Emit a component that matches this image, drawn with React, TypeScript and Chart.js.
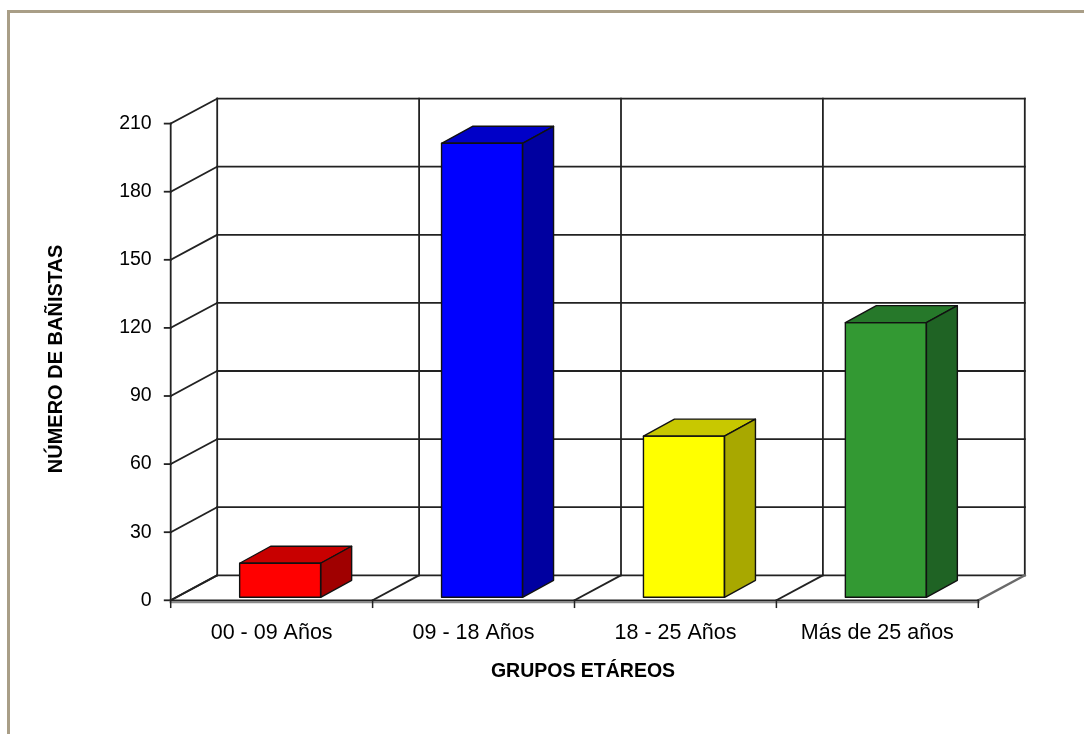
import React, { useEffect, useRef } from 'react';
import { Chart, registerables } from 'chart.js';

Chart.register(...registerables);

// ---- data ----
const categories = ['00 - 09 Años', '09 - 18 Años', '18 - 25 Años', 'Más de 25 años'];
const banistas = [15, 200, 71, 121];
const frontColors = ['#FF0000', '#0000FF', '#FFFF00', '#339933'];
const topColors = ['#C80000', '#0000C8', '#C8C800', '#26782A'];
const sideColors = ['#A00000', '#0000A0', '#A8A800', '#1F6324'];
const yMin = 0;
const yMax = 210;
const yStep = 30;
const xTitle = 'GRUPOS ETÁREOS';
const yTitle = 'NÚMERO DE BAÑISTAS';

// ---- 3D projection styling ----
const FRONT = { x: -8.5, y: 3 }; // front plane relative to bar plane
const DEPTH = { x: 46.5, y: -25 }; // back wall relative to front plane
const BAR_DEPTH = { x: 31, y: -17 };
const FONT = "'Liberation Sans', Arial, sans-serif";

function line(ctx: CanvasRenderingContext2D, x1: number, y1: number, x2: number, y2: number) {
  ctx.beginPath();
  ctx.moveTo(x1, y1);
  ctx.lineTo(x2, y2);
  ctx.stroke();
}

const threeD = {
  id: 'threeD',
  beforeDraw(chart: any) {
    const ctx = chart.ctx as CanvasRenderingContext2D;
    ctx.save();
    ctx.fillStyle = '#ffffff';
    ctx.fillRect(0, 0, chart.width, chart.height);
    ctx.fillStyle = '#A99E87';
    ctx.fillRect(7, 10, chart.width, 3);
    ctx.fillRect(7, 10, 3, chart.height);
    ctx.restore();
  },
  beforeDatasetsDraw(chart: any) {
    const ctx = chart.ctx as CanvasRenderingContext2D;
    const xs = chart.scales.x;
    const ys = chart.scales.y;
    const n = categories.length;
    const fx = (i: number) => xs.getPixelForValue(i - 0.5) + FRONT.x;
    const fy = (v: number) => ys.getPixelForValue(v) + FRONT.y;
    const x0 = fx(0);
    const xN = fx(n);
    ctx.save();
    ctx.lineCap = 'square';
    ctx.strokeStyle = '#222222';
    ctx.lineWidth = 1.8;
    ys.ticks.forEach((t: any) => {
      const y = fy(t.value);
      line(ctx, x0, y, x0 + DEPTH.x, y + DEPTH.y);
      line(ctx, x0 + DEPTH.x, y + DEPTH.y, xN + DEPTH.x, y + DEPTH.y);
      line(ctx, x0 - 6, y, x0, y);
    });
    for (let i = 0; i <= n; i++) {
      const x = fx(i);
      line(ctx, x + DEPTH.x, fy(yMin) + DEPTH.y, x + DEPTH.x, fy(yMax) + DEPTH.y);
    }
    line(ctx, x0, fy(yMin), x0, fy(yMax));
    // floor
    for (let i = 0; i <= n; i++) {
      const x = fx(i);
      ctx.strokeStyle = i === n ? '#6a6a6a' : '#222222';
      ctx.lineWidth = i === n ? 2.4 : 1.8;
      line(ctx, x, fy(yMin), x + DEPTH.x, fy(yMin) + DEPTH.y);
    }
    ctx.strokeStyle = '#8a8a8a';
    ctx.lineWidth = 2.5;
    line(ctx, x0, fy(yMin) + 1.8, xN, fy(yMin) + 1.8);
    ctx.strokeStyle = '#222222';
    ctx.lineWidth = 1.5;
    line(ctx, x0, fy(yMin), xN, fy(yMin));
    for (let i = 0; i <= n; i++) {
      const x = fx(i);
      line(ctx, x, fy(yMin), x, fy(yMin) + 7);
    }
    ctx.restore();
  },
  afterDatasetsDraw(chart: any) {
    const ctx = chart.ctx as CanvasRenderingContext2D;
    const meta = chart.getDatasetMeta(0);
    ctx.save();
    ctx.strokeStyle = '#111111';
    ctx.lineWidth = 1.4;
    ctx.lineJoin = 'round';
    meta.data.forEach((bar: any, i: number) => {
      const { x, y, base, width } = bar.getProps(['x', 'y', 'base', 'width'], true);
      const l = x - width / 2;
      const r = x + width / 2;
      const t = Math.min(y, base);
      const b = Math.max(y, base);
      // top face
      ctx.beginPath();
      ctx.moveTo(l, t);
      ctx.lineTo(l + BAR_DEPTH.x, t + BAR_DEPTH.y);
      ctx.lineTo(r + BAR_DEPTH.x, t + BAR_DEPTH.y);
      ctx.lineTo(r, t);
      ctx.closePath();
      ctx.fillStyle = topColors[i];
      ctx.fill();
      ctx.stroke();
      // side face
      ctx.beginPath();
      ctx.moveTo(r, t);
      ctx.lineTo(r + BAR_DEPTH.x, t + BAR_DEPTH.y);
      ctx.lineTo(r + BAR_DEPTH.x, b + BAR_DEPTH.y);
      ctx.lineTo(r, b);
      ctx.closePath();
      ctx.fillStyle = sideColors[i];
      ctx.fill();
      ctx.stroke();
      // front outline
      ctx.strokeRect(l, t, r - l, b - t);
    });
    ctx.restore();
  },
};

export default function App() {
  const canvasRef = useRef<HTMLCanvasElement | null>(null);

  useEffect(() => {
    const canvas = canvasRef.current;
    if (!canvas) return;
    const chart = new Chart(canvas, {
      type: 'bar',
      data: {
        labels: categories,
        datasets: [
          {
            label: yTitle,
            data: banistas,
            backgroundColor: frontColors,
            borderColor: '#111111',
            borderWidth: 0,
            barThickness: 81,
          },
        ],
      },
      options: {
        animation: false,
        responsive: false,
        devicePixelRatio: 1,
        events: [],
        layout: { padding: { top: 120.6, right: 97.2, bottom: 0, left: 0 } },
        plugins: {
          legend: { display: false },
          tooltip: { enabled: false },
        },
        scales: {
          x: {
            type: 'category',
            grid: { display: false, drawTicks: false },
            border: { display: false },
            ticks: {
              color: '#000',
              font: { family: FONT, size: 21.5 },
              labelOffset: FRONT.x,
              padding: 23,
              maxRotation: 0,
              autoSkip: false,
            },
            title: {
              display: true,
              text: xTitle,
              color: '#000',
              font: { family: FONT, size: 19.5, weight: 'bold' },
              padding: { top: 0, bottom: 51 },
            },
            afterFit: (scale: any) => {
              scale.height = 734 - 597.3;
            },
          },
          y: {
            min: yMin,
            max: yMax,
            grid: { display: false, drawTicks: false },
            border: { display: false },
            ticks: {
              stepSize: yStep,
              color: '#000',
              font: { family: FONT, size: 19.5 },
              padding: 27.5,
              labelOffset: FRONT.y,
            },
            title: {
              display: true,
              text: yTitle,
              color: '#000',
              font: { family: FONT, size: 20, weight: 'bold' },
              padding: { top: 44, bottom: 0 },
            },
            afterFit: (scale: any) => {
              scale.width = 179.2;
            },
          },
        },
      } as any,
      plugins: [threeD],
    });
    return () => chart.destroy();
  }, []);

  return (
    <div style={{ position: 'absolute', left: 0, top: 0, width: 1084, height: 734, background: '#fff' }}>
      <canvas ref={canvasRef} width={1084} height={734} style={{ display: 'block' }} />
    </div>
  );
}
